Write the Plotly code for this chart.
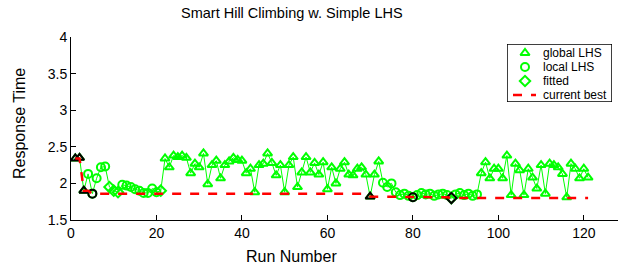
import plotly.graph_objects as go

# ---- data ----
response = [
    2.34, 2.35, 1.90, 2.13, 1.86, 2.07, 2.22, 2.23, 1.95, 1.90,
    1.88, 1.98, 1.97, 1.95, 1.92, 1.90, 1.87, 1.87, 1.93, 1.88,
    1.90, 2.34, 2.22, 2.38, 2.36, 2.38, 2.35, 2.14, 2.27, 2.22,
    2.41, 1.99, 2.25, 2.31, 2.07, 2.25, 2.30, 2.35, 2.32, 2.31,
    2.14, 2.20, 1.88, 2.25, 2.27, 2.41, 2.28, 2.11, 2.25, 1.88,
    2.25, 2.36, 1.95, 2.15, 2.36, 2.15, 2.28, 2.12, 2.29, 1.92,
    2.22, 2.00, 2.20, 2.29, 2.12, 2.11, 2.20, 2.22, 2.12, 1.82,
    2.12, 2.30, 2.01, 1.95, 2.00, 1.88, 1.84, 1.86, 1.83, 1.81,
    1.84, 1.87, 1.85, 1.86, 1.83, 1.85, 1.86, 1.84, 1.80, 1.85,
    1.87, 1.84, 1.86, 1.83, 1.85, 2.14, 2.29, 2.07, 2.20, 2.20,
    2.07, 2.38, 1.84, 2.27, 2.18, 1.84, 2.20, 2.08, 1.93, 2.25,
    1.86, 2.27, 2.25, 2.22, 2.13, 1.81, 2.27, 2.20, 2.07, 2.20,
    2.08,
]
runs = list(range(1, len(response) + 1))
# method per run: g = global LHS, l = local LHS, f = fitted
method = (["g"] * 3 + ["l"] * 5 + ["f"] * 3 + ["l"] * 9 + ["f"] * 1
          + ["g"] * 51 + ["l"] * 16 + ["f"] * 1 + ["l"] * 6
          + ["g"] * 26)
method = method[:len(response)]
best_runs = [1, 2, 3, 5, 70, 80, 89]
x_ticks = [0, 20, 40, 60, 80, 100, 120]
y_ticks = [1.5, 2, 2.5, 3, 3.5, 4]
y_tick_text = ["1.5", "2", "2.5", "3", "3.5", "4"]
legend_labels = ["global LHS", "local LHS", "fitted", "current best"]

# current best (running minimum)
current_best = []
m = float("inf")
for v in response:
    m = min(m, v)
    current_best.append(m)

GREEN = "#00FF00"
FONT = "Liberation Sans, Arial, Helvetica, sans-serif"
symbols = {"g": "triangle-up-open", "l": "circle-open", "f": "diamond-open"}

# pixel geometry of the main plot
W, H = 619, 264
L, R, T, B = 71, 1, 37, 44
PW, PH = W - L - R, H - T - B


def px_x(p):
    return (p - L) / PW


def px_y(p):
    return (H - B - p) / PH


fig = go.Figure()
fig.add_trace(go.Scatter(x=runs, y=response, mode="lines",
                         line=dict(color=GREEN, width=1), showlegend=False,
                         hoverinfo="skip"))
for key in ["g", "l", "f"]:
    xs = [r for r, k in zip(runs, method) if k == key]
    ys = [v for v, k in zip(response, method) if k == key]
    fig.add_trace(go.Scatter(x=xs, y=ys, mode="markers", showlegend=False,
                             marker=dict(symbol=symbols[key], color=GREEN,
                                         size=8, line=dict(width=2, color=GREEN))))
for key in ["g", "l", "f"]:
    xs = [r for r, k in zip(runs, method) if k == key and r in best_runs]
    ys = [response[r - 1] for r in xs]
    fig.add_trace(go.Scatter(x=xs, y=ys, mode="markers", showlegend=False,
                             marker=dict(symbol=symbols[key], color="black",
                                         size=8, line=dict(width=2, color="black"))))
fig.add_trace(go.Scatter(x=runs, y=current_best, mode="lines", showlegend=False,
                         line=dict(color="red", width=2.5, dash="dash")))

# ---- manual legend drawn on its own small axes (pixel units) ----
LX0, LX1, LY0, LY1 = 507, 612, 44, 102
rows = [53, 67, 81, 95]
for key, ry in zip(["g", "l", "f"], rows[:3]):
    fig.add_trace(go.Scatter(x=[525], y=[ry], xaxis="x2", yaxis="y2",
                             mode="markers", showlegend=False, hoverinfo="skip",
                             marker=dict(symbol=symbols[key], color=GREEN, size=8,
                                         line=dict(width=2, color=GREEN))))
fig.add_trace(go.Scatter(x=[513, 536], y=[rows[3], rows[3]], xaxis="x2", yaxis="y2",
                         mode="lines", showlegend=False, hoverinfo="skip",
                         line=dict(color="red", width=2.5, dash="dash")))

annotations = [
    dict(text="Smart Hill Climbing w. Simple LHS", x=px_x(292), y=px_y(13),
         xref="paper", yref="paper", showarrow=False, xanchor="center",
         yanchor="middle", font=dict(size=14.5)),
    dict(text="Run Number", x=px_x(291), y=px_y(256), xref="paper", yref="paper",
         showarrow=False, xanchor="center", yanchor="middle", font=dict(size=16)),
    dict(text="Response Time", x=px_x(19), y=px_y(124), xref="paper", yref="paper",
         showarrow=False, textangle=-90, xanchor="center", yanchor="middle",
         font=dict(size=16)),
]
for lab, ry in zip(legend_labels, rows):
    annotations.append(dict(text=lab, x=541, y=ry, xref="x2", yref="y2",
                            showarrow=False, xanchor="left", yanchor="middle",
                            font=dict(size=12)))

fig.update_layout(
    width=W, height=H,
    margin=dict(l=L, r=R, t=T, b=B),
    paper_bgcolor="white", plot_bgcolor="white",
    font=dict(family=FONT, size=14, color="black"),
    showlegend=False,
    xaxis=dict(range=[0, 128], tickvals=x_ticks, domain=[0, 1],
               showgrid=False, zeroline=False, showline=True, linecolor="black",
               linewidth=1, ticks="inside", ticklen=5, tickcolor="black",
               tickfont=dict(size=14), automargin=False),
    yaxis=dict(range=[1.5, 4], tickvals=y_ticks, ticktext=y_tick_text,
               domain=[0, 1],
               showgrid=False, zeroline=False, showline=True, linecolor="black",
               linewidth=1, ticks="inside", ticklen=5, tickcolor="black",
               tickfont=dict(size=14), automargin=False),
    xaxis2=dict(domain=[px_x(LX0), px_x(LX1)], range=[LX0, LX1], anchor="y2",
                visible=False, fixedrange=True),
    yaxis2=dict(domain=[px_y(LY1), px_y(LY0)], range=[LY1, LY0], anchor="x2",
                visible=False, fixedrange=True),
    shapes=[dict(type="rect", xref="x2", yref="y2", x0=LX0, x1=LX1, y0=LY0, y1=LY1,
                 line=dict(color="black", width=1.5), fillcolor="white",
                 layer="below")],
    annotations=annotations,
)
fig.write_html("out.html", config={"displayModeBar": False},
               post_script="document.body.style.margin='0';")
